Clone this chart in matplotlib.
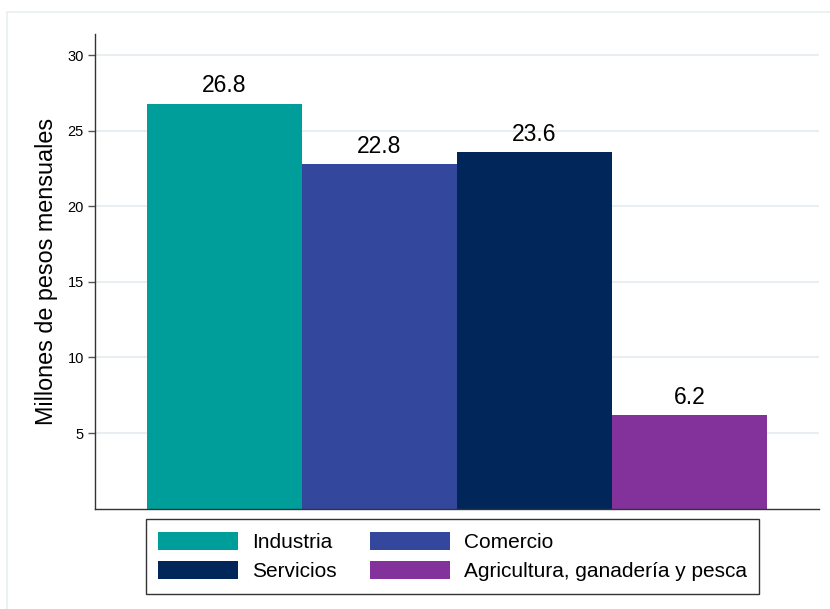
import numpy as np
import matplotlib.pyplot as plt
from matplotlib.patches import Rectangle

plt.rcParams['font.family'] = ['Liberation Sans', 'DejaVu Sans']

# Datos
sectores = ['Industria', 'Comercio', 'Servicios', 'Agricultura, ganadería y pesca']
valores = [26.8, 22.8, 23.6, 6.2]
colores = ['#009e9b', '#33489c', '#01265a', '#84329b']
yticks = [5, 10, 15, 20, 25, 30]

W, H = 830, 609
fig = plt.figure(figsize=(W / 100, H / 100), dpi=100)

# marco tenue del area del grafico
fig.patches.append(Rectangle((7 / W, -0.1), 1.2, 1 - 12 / H + 0.1, transform=fig.transFigure,
                             fill=False, edgecolor='#e8eef0', lw=1.2, zorder=0))

ax = fig.add_axes([95 / W, 1 - 508.6 / H, (819 - 95) / W, (508.6 - 34) / H])

x = np.arange(len(valores))
barras = ax.bar(x, valores, width=1.0, color=colores, edgecolor='none', zorder=2)

for xi, v in zip(x, valores):
    ax.text(xi, v + 0.4, f'{v:.1f}', ha='center', va='bottom', fontsize=16.5)

ax.set_xlim(-0.835, 3.835)
ax.set_ylim(0, 31.4)
ax.set_xticks([])
ax.set_yticks(yticks)
ax.tick_params(axis='y', labelsize=10.5, length=5, width=1, color='#555555', pad=3)
ax.yaxis.grid(True, color='#e8eef2', lw=1.5, zorder=0)
ax.set_axisbelow(True)

for s in ['top', 'right']:
    ax.spines[s].set_visible(False)
for s in ['left', 'bottom']:
    ax.spines[s].set_color('#333333')
    ax.spines[s].set_linewidth(1)

ax.set_ylabel('Millones de pesos mensuales', fontsize=16.8, labelpad=7)

# leyenda: fila 1 Industria, Comercio; fila 2 Servicios, Agricultura
orden = [0, 2, 1, 3]
leg = ax.legend([barras[i] for i in orden], [sectores[i] for i in orden],
                ncol=2, loc='upper center', bbox_to_anchor=(0.5 + (452.5 - 457) / 724, -0.022),
                borderaxespad=0,
                fontsize=15, handlelength=3.85, handleheight=0.95, handletextpad=0.65,
                columnspacing=1.6, labelspacing=0.45, borderpad=0.6,
                frameon=True, fancybox=False, edgecolor='black')
leg.get_frame().set_linewidth(1)

fig.savefig('out.png', dpi=100, facecolor='white')
